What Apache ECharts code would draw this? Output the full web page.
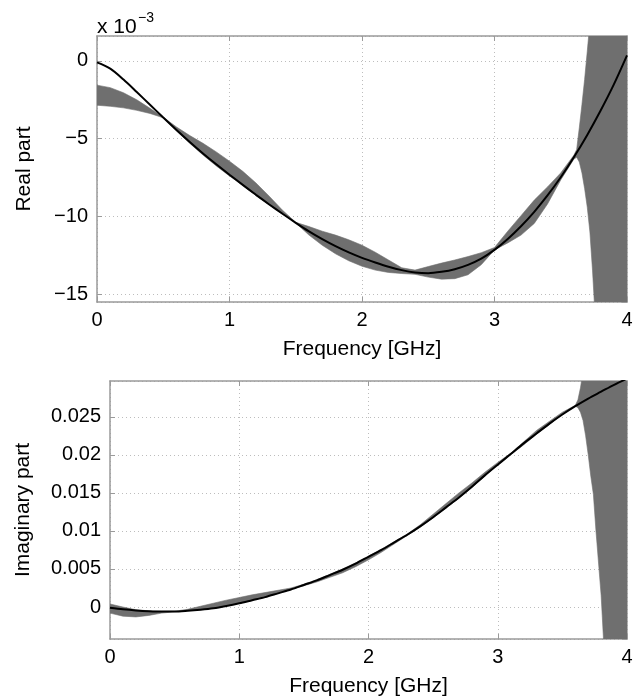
<!DOCTYPE html>
<html>
<head>
<meta charset="utf-8">
<script src="https://cdn.jsdelivr.net/npm/echarts@6/dist/echarts.min.js"></script>
<style>
html,body{margin:0;padding:0;background:#fff;}
#chart{width:642px;height:700px;}
</style>
</head>
<body>
<div id="chart"></div>
<script>
// Frequency samples for the fitted (black) curves [GHz]
var freq = [0,0.1,0.2,0.3,0.4,0.5,0.6,0.7,0.8,0.9,1.0,1.1,1.2,1.3,1.4,1.5,1.6,1.7,1.8,1.9,2.0,
            2.1,2.2,2.3,2.4,2.5,2.6,2.7,2.8,2.9,3.0,3.1,3.2,3.3,3.4,3.5,3.6,3.7,3.8,3.9,4.0];
// Real part of fit (units of 1e-3)
var realFit = [-0.1,-0.5,-1.2,-2.0,-2.82,-3.64,-4.44,-5.21,-5.95,-6.65,-7.32,-7.97,-8.61,-9.23,-9.83,-10.41,
               -10.96,-11.46,-11.91,-12.31,-12.66,-12.96,-13.23,-13.45,-13.6,-13.65,-13.56,-13.39,-13.11,
               -12.71,-12.15,-11.45,-10.63,-9.7,-8.65,-7.48,-6.18,-4.76,-3.21,-1.53,0.35];
// Imaginary part of fit
var imagFit = [-0.0001,-0.0003,-0.00045,-0.00055,-0.0006,-0.0006,-0.0005,-0.00035,-0.00015,0.00015,
               0.0005,0.0009,0.0013,0.0018,0.0023,0.0029,0.0035,0.0042,0.0049,0.0057,0.0066,0.0075,
               0.0085,0.0095,0.0106,0.0118,0.0131,0.0144,0.0158,0.0173,0.0187,0.0201,0.0215,0.0228,
               0.0241,0.0253,0.0264,0.0274,0.0283,0.0292,0.03];

// Frequency samples for the uncertainty band (gray)
var bandFreq = [0,0.1,0.2,0.3,0.4,0.5,0.6,0.7,0.8,0.9,1.0,1.1,1.2,1.3,1.4,1.5,1.6,1.7,1.8,1.9,2.0,
                2.1,2.2,2.3,2.4,2.5,2.6,2.7,2.8,2.9,3.0,3.1,3.2,3.3,3.4,3.5,3.6,
                3.62,3.64,3.66,3.68,3.70,3.72,3.74,3.76,3.8,3.9,4.0];
// Real part band bounds (units of 1e-3)
var realHi = [-1.56,-1.72,-2.05,-2.5,-3.05,-3.62,-4.25,-4.8,-5.3,-5.85,-6.45,-7.1,-7.85,-8.7,-9.6,-10.38,
              -10.65,-10.95,-11.2,-11.5,-11.85,-12.3,-12.8,-13.3,-13.45,-13.22,-13.0,-12.8,-12.58,-12.33,
              -12.0,-10.95,-9.95,-8.95,-8.1,-7.2,-6.05,
              -5.7,-4.3,-2.8,-1.2,0.6,2.5,5,8,15,40,80];
var realLo = [-2.85,-2.92,-3.02,-3.18,-3.38,-3.66,-4.5,-5.3,-6.05,-6.75,-7.4,-8.0,-8.65,-9.25,-9.85,-10.42,
              -11.2,-11.85,-12.4,-12.85,-13.2,-13.45,-13.6,-13.67,-13.72,-13.9,-14.03,-14.0,-13.75,-13.1,
              -12.15,-11.7,-11.2,-10.45,-9.2,-7.65,-6.3,
              -6.2,-6.5,-7.2,-8.2,-9.4,-11.0,-13.5,-16.5,-24,-50,-100];
// Imaginary part band bounds
var imagHi = [0.0004,0.0,-0.00035,-0.0005,-0.00058,-0.00055,-0.0003,0.0001,0.0005,0.0009,0.00125,0.0016,
              0.0019,0.0022,0.0025,0.003,0.0036,0.0043,0.005,0.0058,0.0067,0.0076,0.0086,0.0096,0.0108,
              0.0122,0.0136,0.015,0.0163,0.0177,0.019,0.0202,0.0217,0.0232,0.0244,0.0256,0.0265,
              0.0272,0.0288,0.031,0.034,0.038,0.043,0.05,0.058,0.075,0.12,0.18];
var imagLo = [-0.0008,-0.0012,-0.0013,-0.0011,-0.0008,-0.00062,-0.0005,-0.00035,-0.00015,0.00015,0.0005,
              0.0009,0.0013,0.0018,0.0023,0.0028,0.0033,0.0039,0.0045,0.0053,0.0062,0.0072,0.0083,0.0094,
              0.0105,0.0117,0.013,0.0143,0.0157,0.0172,0.0187,0.02,0.0213,0.0227,0.024,0.0253,0.0264,
              0.0262,0.0256,0.0245,0.0225,0.02,0.0172,0.0148,0.01,0.0015,-0.03,-0.08];

var xTitle = 'Frequency [GHz]';
var realTitle = 'Real part';
var imagTitle = 'Imaginary part';
var realScaleBase = 'x 10';
var realScaleExp = '\u22123';

function pairs(xs, ys) { return xs.map(function (x, i) { return [x, ys[i]]; }); }
function triples(xs, lo, hi) { return xs.map(function (x, i) { return [x, lo[i], hi[i]]; }); }

var FONT = '"Liberation Sans", Arial, Helvetica, sans-serif';
var AXC = '#9a9a9a';
var BAND = '#6f6f6f';

function minusFmt(v) { return v === 0 ? '0' : String(v).replace('-', '\u2212'); }

// Band drawn as one polygon through the axis scales (api.coord), clipped to the plot area
function bandRenderer(xs, lo, hi) {
  return function (params, api) {
    if (params.dataIndex !== 0) return null;
    var pts = [];
    for (var i = 0; i < xs.length; i++) pts.push(api.coord([xs[i], hi[i]]));
    for (var j = xs.length - 1; j >= 0; j--) pts.push(api.coord([xs[j], lo[j]]));
    var cs = params.coordSys;
    return {
      type: 'group',
      clipPath: { type: 'rect', shape: { x: cs.x, y: cs.y, width: cs.width, height: cs.height } },
      children: [{
        type: 'polygon',
        shape: { points: pts },
        style: { fill: BAND, stroke: BAND, lineWidth: 0.6 }
      }]
    };
  };
}

function xMain(grid) {
  return {
    gridIndex: grid, type: 'value', min: 0, max: 4, interval: 1, position: 'bottom',
    name: xTitle, nameLocation: 'middle', nameGap: 37,
    nameTextStyle: { fontFamily: FONT, fontSize: 21, color: '#000' },
    axisLine: { show: true, onZero: false, lineStyle: { color: AXC, width: 1.5 } },
    axisTick: { show: true, inside: true, length: 5, lineStyle: { color: AXC } },
    axisLabel: { fontFamily: FONT, fontSize: 20, color: '#000', margin: 8 },
    splitLine: { show: true, lineStyle: { type: [1, 3], color: '#bdbdbd', width: 1 } }
  };
}
function xMirror(grid) {
  return {
    gridIndex: grid, type: 'value', min: 0, max: 4, interval: 1, position: 'top',
    axisLine: { show: true, onZero: false, lineStyle: { color: AXC, width: 1.5 } },
    axisTick: { show: true, inside: true, length: 5, lineStyle: { color: AXC } },
    axisLabel: { show: false }, splitLine: { show: false }
  };
}
function yMirror(grid, min, max, split) {
  return {
    gridIndex: grid, type: 'value', min: min, max: max, splitNumber: split, position: 'right',
    axisLine: { show: true, onZero: false, lineStyle: { color: AXC, width: 1.5 } },
    axisTick: { show: true, inside: true, length: 5, lineStyle: { color: AXC } },
    axisLabel: { show: false }, splitLine: { show: false }
  };
}

var option = {
  animation: false,
  backgroundColor: '#fff',
  grid: [
    { left: 97, right: 15, top: 36, height: 266 },
    { left: 110, right: 15, top: 381, height: 258 }
  ],
  graphic: [
    { type: 'text', left: 97, top: 17, style: { text: realScaleBase, font: '21px ' + FONT, fill: '#000' } },
    { type: 'text', left: 138, top: 11, style: { text: realScaleExp, font: '14px ' + FONT, fill: '#000' } }
  ],
  xAxis: [ xMain(0), xMirror(0), xMain(1), xMirror(1) ],
  yAxis: [
    {
      gridIndex: 0, type: 'value', min: -15.5, max: 1.6, splitNumber: 4, position: 'left',
      name: realTitle, nameLocation: 'middle', nameGap: 62,
      nameTextStyle: { fontFamily: FONT, fontSize: 21, color: '#000' },
      axisLine: { show: true, onZero: false, lineStyle: { color: AXC, width: 1.5 } },
      axisTick: { show: true, inside: true, length: 5, lineStyle: { color: AXC } },
      axisLabel: { fontFamily: FONT, fontSize: 20, color: '#000', margin: 9,
                   showMinLabel: false, showMaxLabel: false, formatter: minusFmt },
      splitLine: { show: true, lineStyle: { type: [1, 3], color: '#bdbdbd', width: 1 } }
    },
    yMirror(0, -15.5, 1.6, 4),
    {
      gridIndex: 1, type: 'value', min: -0.0042, max: 0.0297, splitNumber: 6, position: 'left',
      name: imagTitle, nameLocation: 'middle', nameGap: 76,
      nameTextStyle: { fontFamily: FONT, fontSize: 21, color: '#000' },
      axisLine: { show: true, onZero: false, lineStyle: { color: AXC, width: 1.5 } },
      axisTick: { show: true, inside: true, length: 5, lineStyle: { color: AXC } },
      axisLabel: { fontFamily: FONT, fontSize: 20, color: '#000', margin: 9,
                   showMinLabel: false, showMaxLabel: false, formatter: minusFmt },
      splitLine: { show: true, lineStyle: { type: [1, 3], color: '#bdbdbd', width: 1 } }
    },
    yMirror(1, -0.0042, 0.0297, 6)
  ],
  series: [
    { type: 'custom', xAxisIndex: 0, yAxisIndex: 0, data: triples(bandFreq, realLo, realHi),
      encode: { x: 0, y: [1, 2] }, renderItem: bandRenderer(bandFreq, realLo, realHi), silent: true, z: 1 },
    { type: 'line', xAxisIndex: 0, yAxisIndex: 0, data: pairs(freq, realFit),
      symbol: 'none', smooth: 0.3, lineStyle: { width: 2, color: '#000' }, silent: true, z: 3 },

    { type: 'custom', xAxisIndex: 2, yAxisIndex: 2, data: triples(bandFreq, imagLo, imagHi),
      encode: { x: 0, y: [1, 2] }, renderItem: bandRenderer(bandFreq, imagLo, imagHi), silent: true, z: 1 },
    { type: 'line', xAxisIndex: 2, yAxisIndex: 2, data: pairs(freq, imagFit),
      symbol: 'none', smooth: 0.3, lineStyle: { width: 2, color: '#000' }, silent: true, z: 3 }
  ]
};

var chart = echarts.init(document.getElementById('chart'), null, { renderer: 'canvas' });
chart.setOption(option);
</script>
</body>
</html>
